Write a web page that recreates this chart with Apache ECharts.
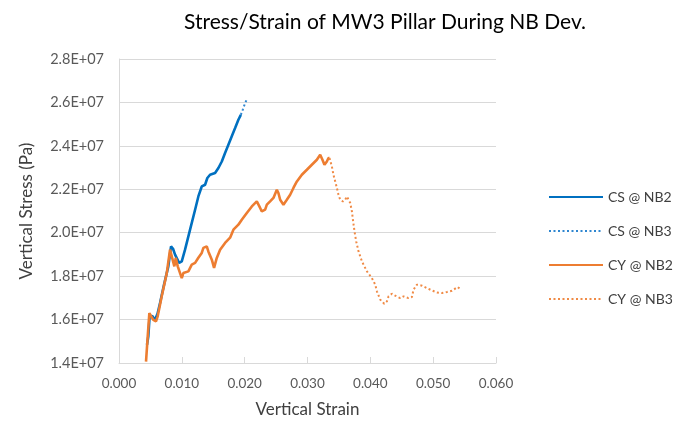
<!DOCTYPE html>
<html>
<head>
<meta charset="utf-8">
<script src="https://cdn.jsdelivr.net/npm/echarts@6/dist/echarts.min.js"></script>
<style>
html,body{margin:0;padding:0;background:#fff;}
#chart{width:696px;height:428px;}
</style>
</head>
<body>
<div id="chart"></div>
<script>
// ---- Data (strain, stress in Pa) ----
const seriesNames = ['CS @ NB2', 'CS @ NB3', 'CY @ NB2', 'CY @ NB3'];

const csNB2Strain = [0.00446,0.00467,0.00486,0.00526,0.00573,0.00613,0.00653,0.00717,0.00785,0.00828,0.00860,0.00892,0.00956,0.00999,0.01051,0.01131,0.01211,0.01263,0.01317,0.01370,0.01406,0.01449,0.01529,0.01582,0.01636,0.01688,0.01741,0.01795,0.01848,0.01900,0.01939];
const csNB2Stress = [1.484e7,1.523e7,1.609e7,1.618e7,1.599e7,1.627e7,1.676e7,1.761e7,1.845e7,1.937e7,1.926e7,1.899e7,1.861e7,1.868e7,1.922e7,2.014e7,2.106e7,2.167e7,2.213e7,2.221e7,2.252e7,2.267e7,2.275e7,2.298e7,2.328e7,2.367e7,2.405e7,2.444e7,2.482e7,2.520e7,2.543e7];

const csNB3Strain = [0.01939,0.01970,0.02007,0.02044];
const csNB3Stress = [2.543e7,2.567e7,2.597e7,2.620e7];

const cyNB2Strain = [0.00430,0.00457,0.00483,0.00494,0.00546,0.00589,0.00616,0.00680,0.00760,0.00812,0.00839,0.00881,0.00903,0.00935,0.00999,0.01024,0.01104,0.01158,0.01211,0.01263,0.01317,0.01343,0.01370,0.01397,0.01422,0.01449,0.01477,0.01513,0.01556,0.01609,0.01688,0.01768,0.01821,0.01900,0.01954,0.02034,0.02114,0.02193,0.02219,0.02246,0.02273,0.02326,0.02353,0.02405,0.02458,0.02512,0.02537,0.02565,0.02617,0.02671,0.02724,0.02776,0.02831,0.02910,0.02990,0.03069,0.03149,0.03202,0.03238,0.03270,0.03308,0.03334,0.03350];
const cyNB2Stress = [1.406e7,1.523e7,1.630e7,1.638e7,1.599e7,1.592e7,1.615e7,1.707e7,1.814e7,1.922e7,1.930e7,1.845e7,1.884e7,1.845e7,1.791e7,1.814e7,1.822e7,1.853e7,1.861e7,1.885e7,1.907e7,1.930e7,1.937e7,1.937e7,1.914e7,1.907e7,1.876e7,1.838e7,1.884e7,1.922e7,1.953e7,1.977e7,2.014e7,2.037e7,2.060e7,2.091e7,2.121e7,2.144e7,2.137e7,2.114e7,2.098e7,2.106e7,2.129e7,2.144e7,2.160e7,2.198e7,2.183e7,2.152e7,2.129e7,2.152e7,2.175e7,2.206e7,2.236e7,2.267e7,2.290e7,2.313e7,2.336e7,2.359e7,2.336e7,2.313e7,2.328e7,2.344e7,2.344e7];

const cyNB3Strain = [0.03350,0.03388,0.03413,0.03441,0.03468,0.03493,0.03520,0.03563,0.03600,0.03627,0.03652,0.03680,0.03707,0.03723,0.03748,0.03775,0.03812,0.03866,0.03946,0.04025,0.04078,0.04105,0.04157,0.04221,0.04264,0.04290,0.04344,0.04396,0.04476,0.04529,0.04556,0.04608,0.04662,0.04688,0.04742,0.04822,0.04901,0.04981,0.05061,0.05140,0.05220,0.05300,0.05389,0.05432];
const cyNB3Stress = [2.344e7,2.305e7,2.267e7,2.236e7,2.206e7,2.175e7,2.152e7,2.144e7,2.152e7,2.167e7,2.175e7,2.137e7,2.098e7,2.060e7,2.006e7,1.960e7,1.914e7,1.868e7,1.822e7,1.791e7,1.761e7,1.730e7,1.692e7,1.673e7,1.684e7,1.707e7,1.719e7,1.710e7,1.699e7,1.707e7,1.710e7,1.699e7,1.704e7,1.738e7,1.761e7,1.756e7,1.745e7,1.734e7,1.725e7,1.722e7,1.727e7,1.733e7,1.750e7,1.741e7];

const xTicks = {min: 0, max: 0.06, interval: 0.01};
const yTicks = {min: 1.4e7, max: 2.8e7, interval: 2e6};

function zip(a, b) { return a.map((v, i) => [v, b[i]]); }

const FONT = 'Lato, "Open Sans", sans-serif';
const chart = echarts.init(document.getElementById('chart'), null, {renderer: 'canvas'});

function lineSeries(name, data, color, dotted) {
  return {
    name: name,
    type: 'line',
    data: data,
    symbol: 'none',
    showSymbol: false,
    smooth: false,
    animation: false,
    color: color,
    lineStyle: dotted
      ? {color: color, width: 2, type: [2, 2.5]}
      : {color: color, width: 2.6, type: 'solid'}
  };
}

chart.setOption({
  animation: false,
  backgroundColor: '#ffffff',
  title: {
    text: 'Stress/Strain of MW3 Pillar During NB Dev.',
    left: 380, top: 7, textAlign: 'center',
    textStyle: {fontFamily: FONT, fontSize: 21, fontWeight: 'normal', color: '#000000'}
  },
  grid: {left: 119, right: 200, top: 59, bottom: 65, containLabel: false},
  legend: {
    orient: 'vertical',
    left: 543, top: 185,
    itemWidth: 54, itemHeight: 14, itemGap: 20,
    itemStyle: {color: 'rgba(0,0,0,0)', borderColor: 'rgba(0,0,0,0)', borderWidth: 0, opacity: 0},
    textStyle: {fontFamily: FONT, fontSize: 14, color: '#404040'},
    data: seriesNames
  },
  xAxis: {
    type: 'value',
    min: xTicks.min, max: xTicks.max, interval: xTicks.interval,
    name: 'Vertical Strain', nameLocation: 'middle', nameGap: 38,
    nameTextStyle: {fontFamily: FONT, fontSize: 17, color: '#404040'},
    axisLine: {show: true, onZero: false, lineStyle: {color: '#D9D9D9', width: 1}},
    axisTick: {show: true, inside: true, length: 6, lineStyle: {color: '#D9D9D9'}},
    splitLine: {show: false},
    axisLabel: {fontFamily: FONT, fontSize: 13.5, color: '#595959', margin: 14,
      formatter: v => v.toFixed(3)}
  },
  yAxis: {
    type: 'value',
    min: yTicks.min, max: yTicks.max, interval: yTicks.interval,
    name: 'Vertical Stress (Pa)', nameLocation: 'middle', nameGap: 84,
    nameTextStyle: {fontFamily: FONT, fontSize: 17, color: '#404040'},
    axisLine: {show: true, lineStyle: {color: '#D9D9D9', width: 1}},
    axisTick: {show: false},
    splitLine: {show: true, lineStyle: {color: '#D9D9D9', width: 1}},
    axisLabel: {fontFamily: FONT, fontSize: 14.5, color: '#595959', margin: 15,
      formatter: v => (v / 1e7).toFixed(1) + 'E+07'}
  },
  series: [
    lineSeries(seriesNames[0], zip(csNB2Strain, csNB2Stress), '#0070C0', false),
    lineSeries(seriesNames[1], zip(csNB3Strain, csNB3Stress), '#2E86D0', true),
    lineSeries(seriesNames[2], zip(cyNB2Strain, cyNB2Stress), '#ED7D31', false),
    lineSeries(seriesNames[3], zip(cyNB3Strain, cyNB3Stress), '#F08A45', true)
  ]
});
</script>
</body>
</html>
